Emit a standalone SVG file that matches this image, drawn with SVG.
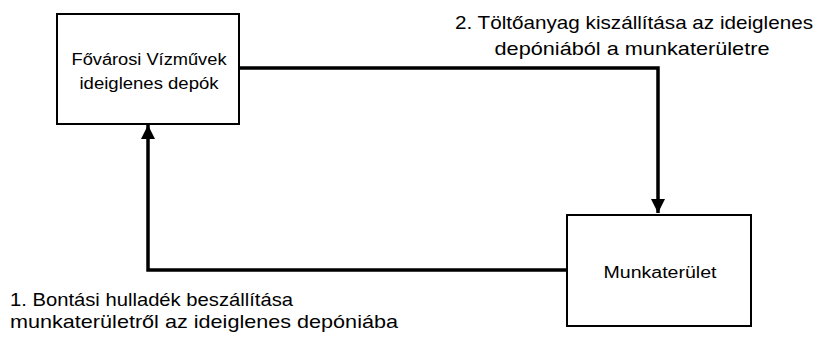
<svg xmlns="http://www.w3.org/2000/svg" width="815" height="339" viewBox="0 0 815 339">
<defs>
<style>
.box{fill:#fff;stroke:#000;stroke-width:2}
.conn{fill:none;stroke:#000;stroke-width:3.5}
.t{font-family:"Liberation Sans",Arial,sans-serif;fill:#000}
.node{font-size:16px}
.lbl{font-size:19px}
</style>
<marker id="ah" viewBox="0 0 10 10" refX="10" refY="5" markerWidth="4" markerHeight="4" markerUnits="strokeWidth" orient="auto">
<path d="M0,0 L10,5 L0,10 Z" fill="#000"/>
</marker>
</defs>
<g id="connectors">
<path class="conn" d="M239,68 H658 V213" marker-end="url(#ah)"/>
<path class="conn" d="M567,270 H148 V125" marker-end="url(#ah)"/>
</g>
<g id="node-depo">
<rect class="box" x="57" y="14" width="182" height="110"/>
<text class="t node" x="149" y="65" text-anchor="middle" textLength="155" lengthAdjust="spacingAndGlyphs">Fővárosi Vízművek</text>
<text class="t node" x="149" y="89" text-anchor="middle" textLength="139" lengthAdjust="spacingAndGlyphs">ideiglenes depók</text>
</g>
<g id="node-munka">
<rect class="box" x="567" y="215" width="184" height="111"/>
<text class="t node" x="660" y="278" text-anchor="middle" textLength="113" lengthAdjust="spacingAndGlyphs">Munkaterület</text>
</g>
<g id="label-2">
<text class="t lbl" x="634" y="29" text-anchor="middle" textLength="358" lengthAdjust="spacingAndGlyphs">2. Töltőanyag kiszállítása az ideiglenes</text>
<text class="t lbl" x="632" y="55" text-anchor="middle" textLength="275" lengthAdjust="spacingAndGlyphs">depóniából a munkaterületre</text>
</g>
<g id="label-1">
<text class="t lbl" x="10" y="306" textLength="283" lengthAdjust="spacingAndGlyphs">1. Bontási hulladék beszállítása</text>
<text class="t lbl" x="10" y="328" textLength="388" lengthAdjust="spacingAndGlyphs">munkaterületről az ideiglenes depóniába</text>
</g>
</svg>
